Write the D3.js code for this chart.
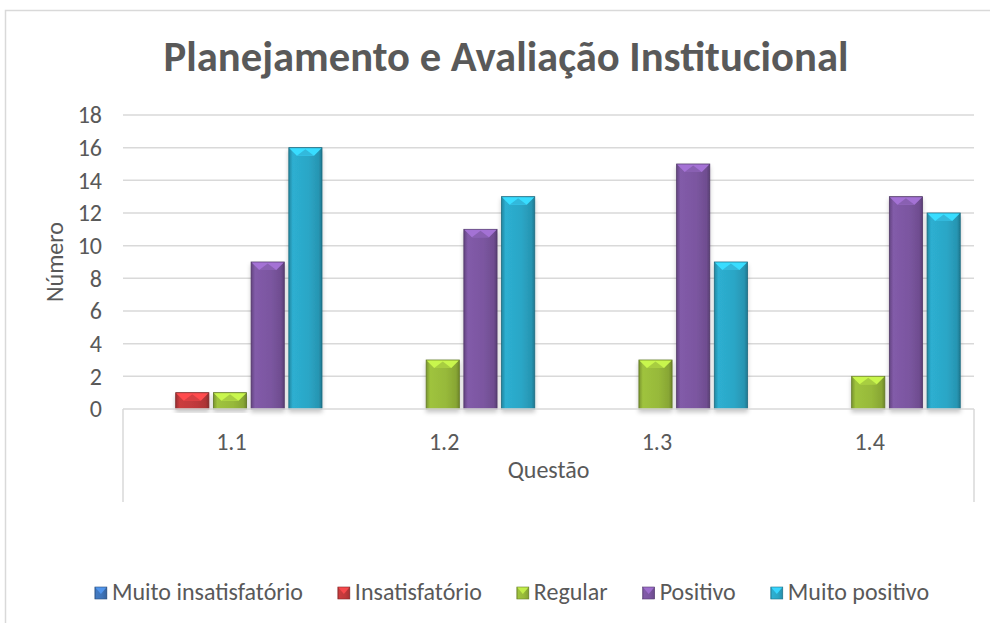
<!DOCTYPE html>
<html>
<head>
<meta charset="utf-8">
<script src="https://cdn.jsdelivr.net/npm/d3@7"></script>
<style>
  body { margin: 0; background: #fff; }
  text { font-family: Calibri, Carlito, "Open Sans", sans-serif; fill: #595959; }
</style>
</head>
<body>
<div id="chart"></div>
<script>
const width = 990, height = 623;

const categories = ["1.1", "1.2", "1.3", "1.4"];
const seriesNames = ["Muito insatisfatório", "Insatisfatório", "Regular", "Positivo", "Muito positivo"];
const muitoInsatisfatorio = [0, 0, 0, 0];
const insatisfatorio = [1, 0, 0, 0];
const regular = [1, 3, 3, 2];
const positivo = [9, 11, 15, 13];
const muitoPositivo = [16, 13, 9, 12];
const yTicks = [0, 2, 4, 6, 8, 10, 12, 14, 16, 18];
const colors = ["#3f74b8", "#c0393b", "#97b93a", "#7b56a0", "#2ba6c6"];

const values = [muitoInsatisfatorio, insatisfatorio, regular, positivo, muitoPositivo];
const bars = [];
values.forEach((vals, s) => {
    vals.forEach((v, c) => bars.push({series: seriesNames[s], cat: categories[c], value: v, idx: s}));
});

const plotLeft = 123, plotRight = 974, plotTop = 115, plotBottom = 409;
const fontSize = 24;

const svg = d3.select("#chart").append("svg")
    .attr("width", width)
    .attr("height", height);

const defs = svg.append("defs");
colors.forEach((c, i) => {
    const g = defs.append("linearGradient").attr("id", "grad" + i)
        .attr("x1", "0").attr("x2", "1").attr("y1", "0").attr("y2", "0");
    const base = d3.color(c);
    g.append("stop").attr("offset", "0").attr("stop-color", base.darker(0.6));
    g.append("stop").attr("offset", "0.12").attr("stop-color", base.brighter(0.15));
    g.append("stop").attr("offset", "0.6").attr("stop-color", base);
    g.append("stop").attr("offset", "0.9").attr("stop-color", base.darker(0.3));
    g.append("stop").attr("offset", "1").attr("stop-color", base.darker(0.9));
});
const shadow = defs.append("filter").attr("id", "shadow")
    .attr("x", "-20%").attr("y", "-20%").attr("width", "140%").attr("height", "140%");
shadow.append("feDropShadow").attr("dx", 0).attr("dy", 3).attr("stdDeviation", 2)
    .attr("flood-color", "#000").attr("flood-opacity", 0.22);

// outer chart frame
svg.append("rect")
    .attr("x", 5.5).attr("y", 10.5)
    .attr("width", 1000).attr("height", 700)
    .attr("fill", "none").attr("stroke", "#d9d9d9").attr("stroke-width", 1.5);

const x0 = d3.scaleBand().domain(categories).range([plotLeft, plotRight]).padding(0);
const x1 = d3.scaleBand().domain(seriesNames).range([15, 199]).paddingInner(0.12);
const y = d3.scaleLinear().domain([0, 18]).range([plotBottom, plotTop]);

// gridlines
svg.append("g").selectAll("line")
    .data(yTicks.filter(t => t > 0))
    .enter().append("line")
    .attr("x1", plotLeft).attr("x2", plotRight)
    .attr("y1", d => y(d)).attr("y2", d => y(d))
    .attr("stroke", "#d9d9d9").attr("stroke-width", 1.5);

// y axis labels
const yAxis = d3.axisLeft(y).tickValues(yTicks).tickSize(0).tickPadding(21);
const gy = svg.append("g").attr("transform", "translate(" + plotLeft + ",0)").call(yAxis);
gy.select(".domain").remove();
gy.selectAll("text")
    .style("font-family", "Calibri, Carlito, 'Open Sans', sans-serif")
    .attr("font-size", fontSize).attr("fill", "#595959");

svg.append("text")
    .attr("transform", "translate(63," + ((plotTop + plotBottom) / 2) + ") rotate(-90)")
    .attr("text-anchor", "middle")
    .attr("font-size", fontSize)
    .text("Número");

// bars
const barG = svg.append("g");
const barSel = barG.selectAll("g.bar")
    .data(bars.filter(d => d.value > 0))
    .enter().append("g").attr("class", "bar")
    .attr("filter", "url(#shadow)");

barSel.append("rect")
    .attr("x", d => x0(d.cat) + x1(d.series))
    .attr("y", d => y(d.value))
    .attr("width", x1.bandwidth())
    .attr("height", d => y(0) - y(d.value))
    .attr("fill", d => "url(#grad" + d.idx + ")")
    .attr("stroke", d => d3.color(colors[d.idx]).darker(1.2))
    .attr("stroke-width", 0.8);

// top bevel
barSel.append("path")
    .attr("d", d => {
        const bx = x0(d.cat) + x1(d.series), bw = x1.bandwidth(), by = y(d.value);
        const depth = Math.min(8, (y(0) - y(d.value)) / 2);
        return d3.line()([[bx + 0.5, by + 0.5], [bx + bw - 0.5, by + 0.5],
            [bx + bw - depth, by + depth], [bx + depth, by + depth]]) + "Z";
    })
    .attr("fill", d => d3.color(colors[d.idx]).brighter(0.8));
barSel.append("path")
    .attr("d", d => {
        const bx = x0(d.cat) + x1(d.series), bw = x1.bandwidth(), by = y(d.value);
        const depth = Math.min(8, (y(0) - y(d.value)) / 2);
        return d3.line()([[bx + depth, by + depth], [bx + bw / 2, by + 1.5], [bx + bw - depth, by + depth]]) + "Z";
    })
    .attr("fill", d => d3.color(colors[d.idx]).brighter(0.3));

// category axis box
const axisG = svg.append("g").attr("stroke", "#d9d9d9").attr("stroke-width", 1.5);
axisG.append("line").attr("x1", plotLeft).attr("x2", plotRight).attr("y1", plotBottom).attr("y2", plotBottom);
axisG.append("line").attr("x1", plotLeft).attr("x2", plotLeft).attr("y1", plotBottom).attr("y2", 502);
axisG.append("line").attr("x1", plotRight).attr("x2", plotRight).attr("y1", plotBottom).attr("y2", 502);

svg.append("g").selectAll("text")
    .data(categories)
    .enter().append("text")
    .attr("x", d => x0(d) + x0.bandwidth() / 2 + 2)
    .attr("y", 450)
    .attr("text-anchor", "middle")
    .attr("font-size", fontSize)
    .text(d => d);

svg.append("text")
    .attr("x", (plotLeft + plotRight) / 2)
    .attr("y", 478)
    .attr("text-anchor", "middle")
    .attr("font-size", fontSize)
    .text("Questão");

// title
const title = svg.append("text")
    .attr("x", 506)
    .attr("y", 71)
    .attr("text-anchor", "middle")
    .attr("font-size", 40)
    .attr("font-weight", "bold")
    .text("Planejamento e Avaliação Institucional");
const tw = title.node().getComputedTextLength();
title.attr("font-size", 40 * 685 / tw);

// legend
const legend = svg.append("g");
const items = legend.selectAll("g")
    .data(seriesNames)
    .enter().append("g");
items.append("rect")
    .attr("width", 12).attr("height", 12)
    .attr("y", -5)
    .attr("fill", (d, i) => "url(#grad" + i + ")")
    .attr("stroke", (d, i) => d3.color(colors[i]).darker(1))
    .attr("stroke-width", 0.6);
items.append("path")
    .attr("d", "M0.5,-4.5 L11.5,-4.5 L6,2 Z")
    .attr("fill", (d, i) => d3.color(colors[i]).brighter(0.7));
items.append("text")
    .attr("x", 17)
    .attr("y", 8)
    .attr("font-size", fontSize)
    .text(d => d);
let lx = 0;
const gap = 35;
items.each(function () {
    const w = 17 + d3.select(this).select("text").node().getComputedTextLength();
    d3.select(this).attr("transform", "translate(" + lx + ",0)");
    lx += w + gap;
});
lx -= gap;
legend.attr("transform", "translate(" + (512 - lx / 2) + ",592)");
</script>
</body>
</html>
